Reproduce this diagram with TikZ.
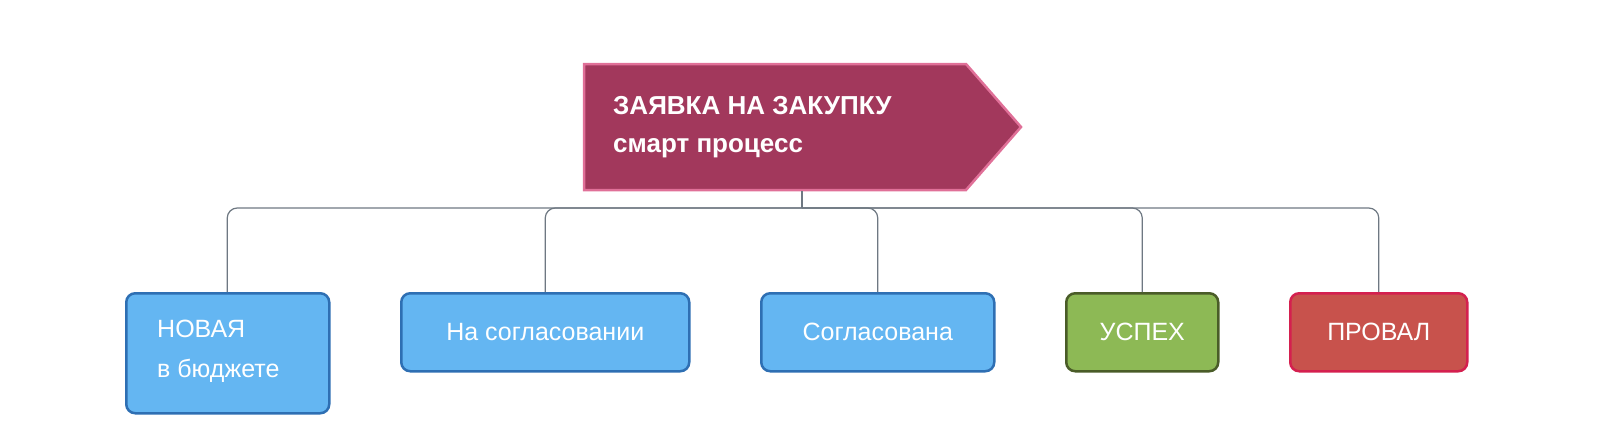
\documentclass[tikz,border=0pt]{standalone}
\usepackage{fontspec}
\setmainfont{Liberation Sans}
\usetikzlibrary{shapes.symbols}
\definecolor{maroon}{HTML}{A2385C}
\definecolor{pinkb}{HTML}{E07098}
\definecolor{bfill}{HTML}{64B6F2}
\definecolor{bline}{HTML}{2E6FB3}
\definecolor{gfill}{HTML}{8DB955}
\definecolor{gline}{HTML}{4A5C28}
\definecolor{rfill}{HTML}{C8524C}
\definecolor{rline}{HTML}{D4204F}
\definecolor{conn}{HTML}{6E7882}
\begin{document}
\begin{tikzpicture}[x=1pt,y=-1pt,
  box/.style={draw,line width=2.5pt,rounded corners=9pt,anchor=north west,inner sep=0pt,
    text=white,font=\fontsize{25}{31}\selectfont,align=left},
  link/.style={draw=conn,line width=1.2pt,rounded corners=10pt}]
\useasboundingbox (0,0) rectangle (1600,423);
\draw[fill=maroon,draw=pinkb,line width=2.5pt] (584,64) -- (966,64) -- (1021,127) -- (966,190) -- (584,190) -- cycle;
\node[anchor=west,text=white,font=\bfseries\fontsize{26}{38}\selectfont,align=left,inner sep=0pt] (top) at (613,127)
  {ЗАЯВКА НА ЗАКУПКУ\\смарт процесс};
\coordinate (s) at (802,191);
\node[box,fill=bfill,draw=bline,minimum width=203pt,minimum height=120pt,text width=170pt,
  text depth=0pt] (b1) at (125,292) {};
\node[anchor=west,text=white,font=\fontsize{25}{40}\selectfont,align=left,inner sep=0pt] (t1) at (157,351) {НОВАЯ\\в бюджете};
\node[box,fill=bfill,draw=bline,minimum width=288pt,minimum height=78pt,align=center] (b2) at (400,292) {На согласовании};
\node[box,fill=bfill,draw=bline,minimum width=233pt,minimum height=78pt,align=center] (b3) at (760,292) {Согласована};
\node[box,fill=gfill,draw=gline,minimum width=152pt,minimum height=78pt,align=center] (b4) at (1065,292) {УСПЕХ};
\node[box,fill=rfill,draw=rline,minimum width=177pt,minimum height=78pt,align=center] (b5) at (1289,292) {ПРОВАЛ};
\coordinate (j) at (802,208);
\draw[link] (s) -- (j);
\draw[link] (j) -| ([xshift=-0.5pt]b1.north);
\draw[link] (j) -| (b2.north);
\draw[link] (j) -| (b3.north);
\draw[link] (j) -| (b4.north);
\draw[link] (j) -| (b5.north);
\end{tikzpicture}
\end{document}
